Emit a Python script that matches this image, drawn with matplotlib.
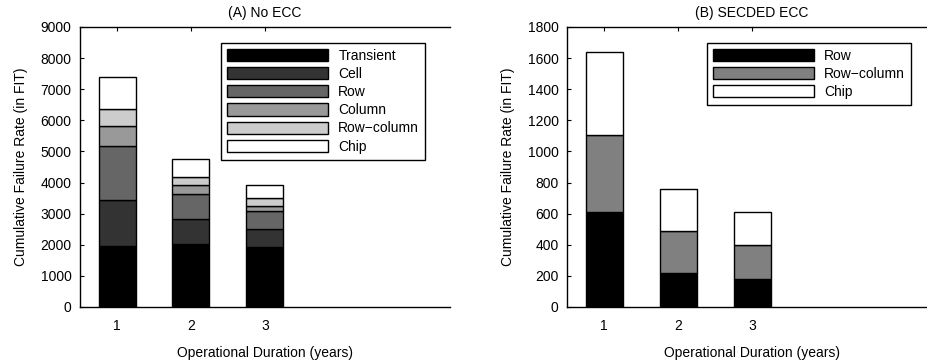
import numpy as np
import matplotlib
matplotlib.use("Agg")
import matplotlib.pyplot as plt
from matplotlib.patches import Rectangle
from matplotlib.legend_handler import HandlerPatch

plt.rcParams['font.family'] = ['Liberation Sans', 'DejaVu Sans']
plt.rcParams['font.size'] = 10

# --- data ---
years = [1, 2, 3]

# (A) No ECC, FIT per fault type
noecc_labels = ["Transient", "Cell", "Row", "Column", "Row\u2212column", "Chip"]
noecc_transient = [1950, 2035, 1940]
noecc_cell = [1480, 805, 560]
noecc_row = [1760, 805, 570]
noecc_column = [620, 278, 186]
noecc_rowcol = [555, 258, 235]
noecc_chip = [1015, 590, 440]

# (B) SECDED ECC
secded_labels = ["Row", "Row\u2212column", "Chip"]
secded_row = [611, 219, 182]
secded_rowcol = [495, 272, 216]
secded_chip = [535, 270, 214]

noecc_colors = ["#000000", "#333333", "#666666", "#999999", "#cccccc", "#ffffff"]
secded_colors = ["#000000", "#808080", "#ffffff"]

W, H = 928, 363
DPI = 100
fig = plt.figure(figsize=(W / DPI, H / DPI), dpi=DPI)


def px_axes(x0, y0, w, h):
    # pixel box (top-left origin) -> figure fraction
    return [x0 / W, (H - y0 - h) / H, w / W, h / H]


def make_rect(legend, orig_handle, xdescent, ydescent, width, height, fontsize):
    # leave a gap in front of the swatch, like the MATLAB legend
    gap = 0.8 * fontsize
    return Rectangle((-xdescent + gap, -ydescent), width - gap, height)


def stacked(ax, series, colors, labels):
    bottom = np.zeros(len(years))
    for vals, c, lab in zip(series, colors, labels):
        ax.bar(years, vals, width=0.5, bottom=bottom, color=c,
               edgecolor="black", linewidth=1.0, label=lab)
        bottom += np.array(vals)


def style(ax, ymax, ystep, title):
    ax.set_xlim(0.5, 5.5)
    ax.set_ylim(0, ymax)
    ax.set_xticks(years)
    ax.set_yticks(np.arange(0, ymax + 1, ystep))
    ax.tick_params(direction="in", top=True, right=False, length=3, width=0.8)
    ax.tick_params(axis="x", pad=9)
    ax.tick_params(axis="y", pad=6)
    ax.spines["right"].set_visible(False)
    for s in ["left", "top", "bottom"]:
        ax.spines[s].set_linewidth(1.0)
    ax.set_xlabel("Operational Duration (years)", labelpad=9)
    ax.set_ylabel("Cumulative Failure Rate (in FIT)", labelpad=9)
    ax.set_title(title, fontsize=10, pad=7)


ax1 = fig.add_axes(px_axes(80, 27, 370, 280))
stacked(ax1, [noecc_transient, noecc_cell, noecc_row, noecc_column,
              noecc_rowcol, noecc_chip], noecc_colors, noecc_labels)
style(ax1, 9000, 1000, "(A) No ECC")

ax2 = fig.add_axes(px_axes(567, 27, 370, 280))
stacked(ax2, [secded_row, secded_rowcol, secded_chip], secded_colors, secded_labels)
style(ax2, 1800, 200, "(B) SECDED ECC")

for ax, x_left in [(ax1, 220.7), (ax2, 706.7)]:
    leg = ax.legend(loc="upper left", bbox_to_anchor=(x_left / W, (H - 42.5) / H),
                    bbox_transform=fig.transFigure, borderaxespad=0,
                    fancybox=False, edgecolor="black", framealpha=1,
                    handlelength=7.3, handleheight=0.96, handletextpad=0.72,
                    labelspacing=0.3, borderpad=0.45,
                    handler_map={Rectangle: HandlerPatch(patch_func=make_rect)})
    leg.get_frame().set_linewidth(1.0)

fig.savefig("out.png", dpi=DPI)
